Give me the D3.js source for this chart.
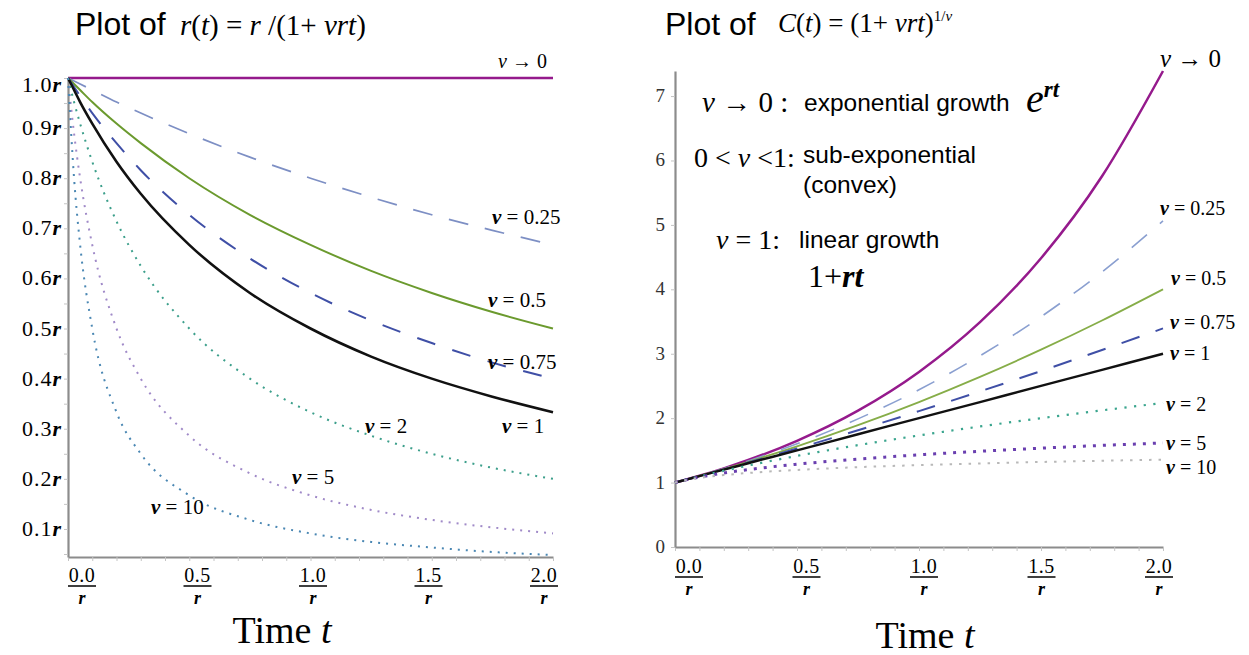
<!DOCTYPE html>
<html>
<head>
<meta charset="utf-8">
<script src="https://cdn.jsdelivr.net/npm/d3@7"></script>
<style>
	body { margin: 0; background: #fff; }
	svg { display: block; }
	.serif { font-family: "Liberation Serif", "Times New Roman", serif; }
	.sans { font-family: "Liberation Sans", Arial, sans-serif; }
</style>
</head>
<body>
<div id="graph"></div>
<script>
var tGrid = [0, 0.025, 0.05, 0.1, 0.2, 0.3, 0.5, 0.75, 1, 1.25, 1.5, 1.75, 2]

// left panel, r(t) in units of r
var rateNu0   = [1, 1, 1, 1, 1, 1, 1, 1, 1, 1, 1, 1, 1]
var rateNu025 = [1, 0.994, 0.988, 0.976, 0.952, 0.930, 0.889, 0.842, 0.800, 0.762, 0.727, 0.696, 0.667]
var rateNu05  = [1, 0.988, 0.976, 0.952, 0.909, 0.870, 0.800, 0.727, 0.667, 0.615, 0.571, 0.533, 0.500]
var rateNu075 = [1, 0.982, 0.964, 0.930, 0.870, 0.816, 0.727, 0.640, 0.571, 0.516, 0.471, 0.432, 0.400]
var rateNu1   = [1, 0.976, 0.952, 0.909, 0.833, 0.769, 0.667, 0.571, 0.500, 0.444, 0.400, 0.364, 0.333]
var rateNu2   = [1, 0.952, 0.909, 0.833, 0.714, 0.625, 0.500, 0.400, 0.333, 0.286, 0.250, 0.222, 0.200]
var rateNu5   = [1, 0.889, 0.800, 0.667, 0.500, 0.400, 0.286, 0.211, 0.167, 0.138, 0.118, 0.103, 0.091]
var rateNu10  = [1, 0.800, 0.667, 0.500, 0.333, 0.250, 0.167, 0.118, 0.091, 0.074, 0.063, 0.054, 0.048]

// right panel, C(t)
var growthNu0   = [1, 1.025, 1.051, 1.105, 1.221, 1.350, 1.649, 2.117, 2.718, 3.490, 4.482, 5.755, 7.389]
var growthNu025 = [1, 1.025, 1.051, 1.104, 1.216, 1.336, 1.602, 1.989, 2.441, 2.968, 3.574, 4.270, 5.063]
var growthNu05  = [1, 1.025, 1.051, 1.103, 1.210, 1.323, 1.563, 1.891, 2.250, 2.641, 3.063, 3.516, 4.000]
var growthNu075 = [1, 1.025, 1.050, 1.101, 1.205, 1.311, 1.529, 1.813, 2.109, 2.415, 2.732, 3.058, 3.393]
var growthNu1   = [1, 1.025, 1.050, 1.100, 1.200, 1.300, 1.500, 1.750, 2.000, 2.250, 2.500, 2.750, 3.000]
var growthNu2   = [1, 1.025, 1.049, 1.095, 1.183, 1.265, 1.414, 1.581, 1.732, 1.871, 2.000, 2.121, 2.236]
var growthNu5   = [1, 1.024, 1.046, 1.084, 1.149, 1.201, 1.285, 1.365, 1.431, 1.486, 1.534, 1.577, 1.615]
var growthNu10  = [1, 1.023, 1.041, 1.072, 1.116, 1.149, 1.196, 1.239, 1.271, 1.297, 1.320, 1.339, 1.356]

var nuLabels = ['\u2192 0', '= 0.25', '= 0.5', '= 0.75', '= 1', '= 2', '= 5', '= 10']

var rateTicks = [0.1, 0.2, 0.3, 0.4, 0.5, 0.6, 0.7, 0.8, 0.9, 1.0]
var rateTickLabels = ['0.1', '0.2', '0.3', '0.4', '0.5', '0.6', '0.7', '0.8', '0.9', '1.0']
var growthTicks = [0, 1, 2, 3, 4, 5, 6, 7]
var timeTicks = [0, 0.5, 1, 1.5, 2]
var timeTickLabels = ['0.0', '0.5', '1.0', '1.5', '2.0']

var rateSeries = [rateNu0, rateNu025, rateNu05, rateNu075, rateNu1, rateNu2, rateNu5, rateNu10]
var growthSeries = [growthNu0, growthNu025, growthNu05, growthNu075, growthNu1, growthNu2, growthNu5, growthNu10]

// line looks, same order as the series
var leftStyle = [
	{ color: '#951a8c', width: 2.5, dash: null },
	{ color: '#7d8fc4', width: 1.7, dash: '20,17' },
	{ color: '#6b9a2e', width: 2, dash: null },
	{ color: '#3f4fa6', width: 2, dash: '19,18' },
	{ color: '#111111', width: 2.6, dash: null },
	{ color: '#3c9f8b', width: 2, dash: '2,6' },
	{ color: '#a08ac8', width: 2, dash: '2,6' },
	{ color: '#4a87b3', width: 2, dash: '2,6' },
]
var rightStyle = [
	{ color: '#951a8c', width: 2.5, dash: null },
	{ color: '#8a9fd0', width: 1.6, dash: '20,17' },
	{ color: '#86ad48', width: 1.8, dash: null },
	{ color: '#3f4fa6', width: 2, dash: '19,17' },
	{ color: '#111111', width: 2.4, dash: null },
	{ color: '#3aa58e', width: 2.2, dash: '2.2,7.5' },
	{ color: '#6a3fb0', width: 3, dash: '3,7' },
	{ color: '#b8b8b8', width: 2, dash: '2.5,7' },
]
var leftLabelPos = [[498, 68], [492, 224], [488, 307], [488, 369], [502, 433], [365, 433], [292, 484], [151, 514]]
var rightLabelPos = [[1160, 67], [1160, 215], [1171, 285], [1170, 329], [1170, 360], [1166, 411], [1166, 450], [1166, 474]]

var W = 1249, H = 655

var svg = d3.select('#graph')
	.append('svg')
	.attr('width', W)
	.attr('height', H)

// write text made of [string, kind] pieces: n = upright, i = italic, b = bold italic
function mathText(sel, parts) {
	parts.forEach(function(p) {
		var ts = sel.append('tspan').text(p[0])
		if (p[1] == 'i' || p[1] == 'b') ts.attr('font-style', 'italic')
		if (p[1] == 'b') ts.attr('font-weight', 'bold')
		if (p[2]) ts.attr('font-size', p[2])
		if (p[3]) ts.attr('dy', p[3])
	})
	return sel
}

function drawPanel(opt) {
	var x = d3.scaleLinear().domain([0, 2]).range(opt.xRange)
	var y = d3.scaleLinear().domain(opt.yDomain).range(opt.yRange)
	var g = svg.append('g')

	// minor ticks on x
	var xAxis = d3.axisBottom(x)
		.tickValues(d3.range(0, 2.001, 0.1))
		.tickSize(4)
		.tickSizeOuter(0)
		.tickFormat('')
	g.append('g')
		.attr('transform', 'translate(0,' + opt.yRange[0] + ')')
		.call(xAxis)

	var yAxis = d3.axisLeft(y)
		.tickValues(opt.yMinor)
		.tickSize(4)
		.tickSizeOuter(0)
		.tickFormat('')
	g.append('g')
		.attr('transform', 'translate(' + opt.xRange[0] + ',0)')
		.call(yAxis)

	g.selectAll('.domain').attr('stroke', '#8c8c8c').attr('stroke-width', 2.2)
	g.selectAll('.tick line').attr('stroke', '#c4c4c4').attr('stroke-width', 1)

	// x tick labels as fractions over r
	var lx = d3.scaleLinear().domain([0, 2]).range(opt.xLabelRange)
	var xl = g.selectAll('.xlab')
		.data(timeTicks)
		.enter()
		.append('g')
		.attr('class', 'xlab serif')
		.attr('transform', (d) => 'translate(' + lx(d) + ',' + opt.xLabelY + ')')
	xl.append('text')
		.attr('text-anchor', 'middle')
		.attr('font-size', 20)
		.attr('letter-spacing', 0.5)
		.text((d, i) => timeTickLabels[i])
	xl.append('line')
		.attr('x1', -14).attr('x2', 14)
		.attr('y1', 4).attr('y2', 4)
		.attr('stroke', '#111').attr('stroke-width', 1.6)
	xl.append('text')
		.attr('text-anchor', 'middle')
		.attr('y', 22)
		.attr('font-size', 18)
		.attr('font-style', 'italic')
		.attr('font-weight', 'bold')
		.text('r')

	// axis title
	mathText(g.append('text')
		.attr('class', 'serif')
		.attr('x', opt.titleX)
		.attr('y', opt.titleY)
		.attr('text-anchor', 'middle')
		.attr('font-size', 38), [['Time ', 'n'], ['t', 'i']])

	// curves
	var line = d3.line()
		.x((d, i) => x(tGrid[i]))
		.y((d) => y(d))
		.curve(d3.curveMonotoneX)

	g.selectAll('.curve')
		.data(opt.series)
		.enter()
		.append('path')
		.attr('class', 'curve')
		.attr('fill', 'none')
		.attr('d', (d) => line(d))
		.attr('stroke', (d, i) => opt.style[i].color)
		.attr('stroke-width', (d, i) => opt.style[i].width)
		.attr('stroke-dasharray', (d, i) => opt.style[i].dash)

	// curve labels
	g.selectAll('.clab')
		.data(nuLabels)
		.enter()
		.append('text')
		.attr('class', 'clab serif')
		.attr('x', (d, i) => opt.labelPos[i][0])
		.attr('y', (d, i) => opt.labelPos[i][1])
		.attr('font-size', (d, i) => i == 0 ? opt.firstLabelSize : opt.labelSize)
		.each(function(d, i) {
			var sel = d3.select(this)
			if (i == 0) mathText(sel, [['v', 'i'], [' ' + d, 'n']])
			else mathText(sel, [['v', 'b'], [' ' + d, 'n']])
		})

	return { x: x, y: y, g: g }
}

// ---- left panel ----
var left = drawPanel({
	xRange: [68, 553],
	yDomain: [0.044, 1.0],
	yRange: [557, 78],
	yMinor: d3.range(0.05, 1.001, 0.05),
	xLabelRange: [82, 544],
	xLabelY: 582,
	titleX: 282,
	titleY: 643,
	series: rateSeries,
	style: leftStyle,
	labelPos: leftLabelPos,
	firstLabelSize: 20,
	labelSize: 21,
})

left.g.selectAll('.ylab')
	.data(rateTicks)
	.enter()
	.append('text')
	.attr('class', 'ylab serif')
	.attr('x', 62)
	.attr('y', (d) => left.y(d) + 7 + (d == 1 ? 7 : 0))
	.attr('text-anchor', 'end')
	.attr('font-size', 22)
	.attr('letter-spacing', 1)
	.each(function(d, i) {
		mathText(d3.select(this), [[rateTickLabels[i], 'n'], ['r', 'b']])
	})

svg.append('text')
	.attr('class', 'sans')
	.attr('x', 75)
	.attr('y', 35)
	.attr('font-size', 32)
	.text('Plot of')
mathText(svg.append('text')
	.attr('class', 'serif')
	.attr('x', 180)
	.attr('y', 35)
	.attr('font-size', 29),
	[['r', 'i'], ['(', 'n'], ['t', 'i'], [') = ', 'n'], ['r', 'i'], [' /(1+ ', 'n'], ['vrt', 'i'], [')', 'n']])

// ---- right panel ----
var right = drawPanel({
	xRange: [675, 1163],
	yDomain: [0, 7.389],
	yRange: [547, 71],
	yMinor: growthTicks,
	xLabelRange: [689, 1159],
	xLabelY: 573,
	titleX: 925,
	titleY: 648,
	series: growthSeries,
	style: rightStyle,
	labelPos: rightLabelPos,
	firstLabelSize: 25,
	labelSize: 20,
})

right.g.selectAll('.ylab')
	.data(growthTicks)
	.enter()
	.append('text')
	.attr('class', 'ylab serif')
	.attr('x', 665)
	.attr('y', (d) => right.y(d) + 6)
	.attr('text-anchor', 'end')
	.attr('font-size', 19)
	.attr('fill', '#333')
	.text((d) => d)

svg.append('text')
	.attr('class', 'sans')
	.attr('x', 665)
	.attr('y', 35)
	.attr('font-size', 32)
	.text('Plot of')
mathText(svg.append('text')
	.attr('class', 'serif')
	.attr('x', 778)
	.attr('y', 32)
	.attr('font-size', 27),
	[['C', 'i'], ['(', 'n'], ['t', 'i'], [') = (1+ ', 'n'], ['vrt', 'i'], [')', 'n'], ['1/', 'n', 15, -11], ['v', 'i', 15]])

// notes on the right panel
var notes = svg.append('g')
mathText(notes.append('text').attr('class', 'serif').attr('x', 702).attr('y', 112).attr('font-size', 29),
	[['v', 'i'], [' \u2192 0 :', 'n']])
notes.append('text').attr('class', 'sans').attr('x', 804).attr('y', 111).attr('font-size', 24.5).text('exponential growth')
mathText(notes.append('text').attr('class', 'serif').attr('x', 1026).attr('y', 112).attr('font-size', 40),
	[['e', 'i'], ['rt', 'b', 23, -15]])

mathText(notes.append('text').attr('class', 'serif').attr('x', 694).attr('y', 167).attr('font-size', 28),
	[['0 < ', 'n'], ['v', 'i'], [' <1:', 'n']])
notes.append('text').attr('class', 'sans').attr('x', 803).attr('y', 163).attr('font-size', 24.5).text('sub-exponential')
notes.append('text').attr('class', 'sans').attr('x', 803).attr('y', 193).attr('font-size', 24.5).text('(convex)')

mathText(notes.append('text').attr('class', 'serif').attr('x', 716).attr('y', 249).attr('font-size', 28),
	[['v', 'i'], [' = 1:', 'n']])
notes.append('text').attr('class', 'sans').attr('x', 799).attr('y', 248).attr('font-size', 24.5).text('linear growth')
mathText(notes.append('text').attr('class', 'serif').attr('x', 808).attr('y', 287).attr('font-size', 32),
	[['1+', 'n'], ['rt', 'b']])
</script>
</body>
</html>
